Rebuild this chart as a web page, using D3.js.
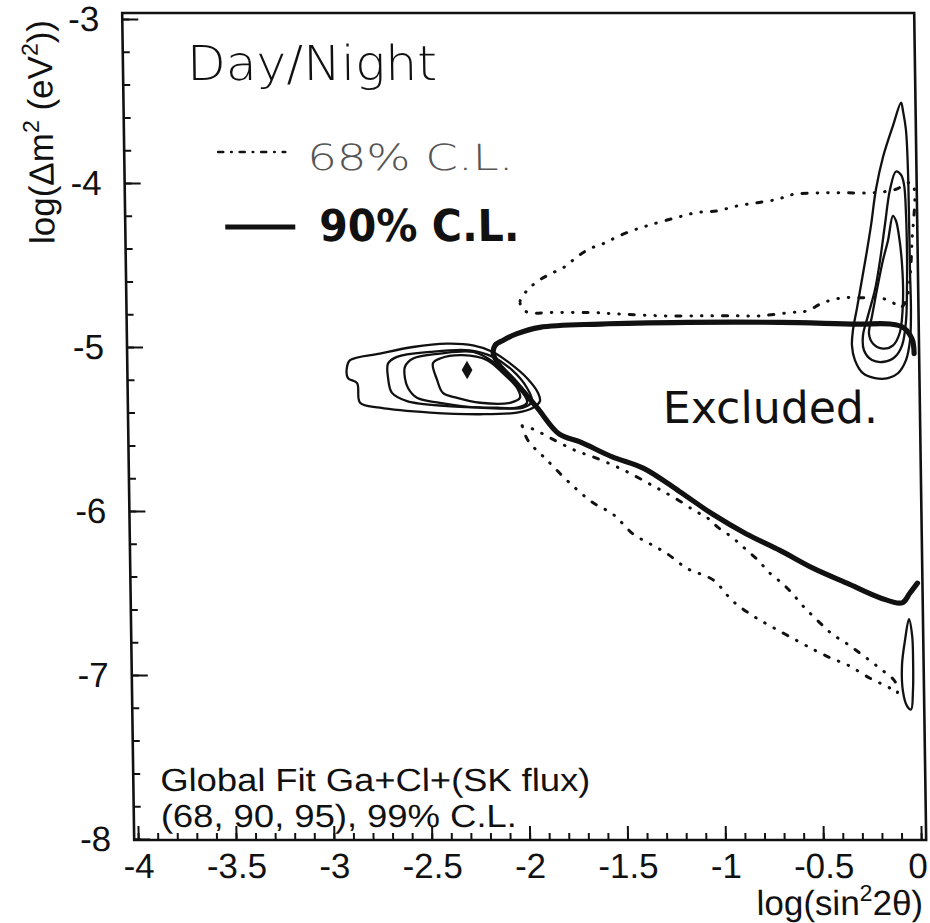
<!DOCTYPE html>
<html>
<head>
<meta charset="utf-8">
<script src="https://cdn.jsdelivr.net/npm/d3@7"></script>
<style>
  html, body { margin: 0; padding: 0; background: #fff; }
  svg { display: block; }
</style>
</head>
<body>
<svg id="chart" width="930" height="923"></svg>
<script>
// ---- axis ticks ---------------------------------------------------------
const xMajorTicks = [-4, -3.5, -3, -2.5, -2, -1.5, -1, -0.5, 0];
const yMajorTicks = [-3, -4, -5, -6, -7, -8];

// ---- global fit Ga+Cl+(SK flux): points are [log sin^2 2θ, log Δm^2] ----
const lmaBestFit = [-2.285, -5.14];
const lma68 = [[-2.459,-5.10],[-2.422,-5.07],[-2.305,-5.05],[-2.182,-5.08],[-2.102,-5.16],[-2.031,-5.25],[-2.017,-5.31],[-2.068,-5.34],[-2.221,-5.34],[-2.338,-5.31],[-2.410,-5.28],[-2.439,-5.20]];
const lma90 = [[-2.602,-5.12],[-2.560,-5.07],[-2.422,-5.04],[-2.253,-5.03],[-2.152,-5.09],[-2.066,-5.19],[-2.001,-5.28],[-1.981,-5.34],[-2.033,-5.37],[-2.222,-5.37],[-2.426,-5.34],[-2.543,-5.31],[-2.588,-5.25],[-2.603,-5.19]];
const lma95 = [[-2.688,-5.10],[-2.642,-5.06],[-2.473,-5.03],[-2.269,-5.02],[-2.152,-5.06],[-2.056,-5.14],[-1.980,-5.25],[-1.956,-5.33],[-2.002,-5.37],[-2.135,-5.37],[-2.390,-5.36],[-2.594,-5.33],[-2.670,-5.28],[-2.689,-5.19]];
const lma99 = [[-2.898,-5.12],[-2.882,-5.08],[-2.729,-5.04],[-2.560,-5.00],[-2.386,-4.98],[-2.253,-4.99],[-2.151,-5.03],[-2.065,-5.10],[-1.979,-5.19],[-1.924,-5.28],[-1.915,-5.33],[-1.951,-5.37],[-2.033,-5.40],[-2.222,-5.41],[-2.477,-5.40],[-2.733,-5.37],[-2.834,-5.34],[-2.848,-5.22],[-2.894,-5.19]];

const sma90 = [[-0.098,-4.20],[-0.125,-4.35],[-0.152,-4.47],[-0.185,-4.65],[-0.212,-4.81],[-0.229,-4.92],[-0.209,-4.98],[-0.159,-5.01],[-0.107,-4.99],[-0.071,-4.91],[-0.053,-4.72],[-0.055,-4.50],[-0.069,-4.32],[-0.083,-4.23]];
const sma95 = [[-0.079,-3.93],[-0.111,-4.04],[-0.139,-4.25],[-0.167,-4.47],[-0.195,-4.65],[-0.233,-4.81],[-0.260,-4.93],[-0.256,-5.02],[-0.216,-5.08],[-0.154,-5.09],[-0.098,-5.06],[-0.061,-4.99],[-0.039,-4.84],[-0.032,-4.65],[-0.029,-4.41],[-0.031,-4.20],[-0.039,-4.01],[-0.054,-3.95]];
const sma99 = [[-0.048,-3.51],[-0.091,-3.65],[-0.144,-3.84],[-0.183,-4.04],[-0.211,-4.26],[-0.239,-4.45],[-0.266,-4.62],[-0.288,-4.76],[-0.311,-4.90],[-0.317,-4.99],[-0.303,-5.08],[-0.263,-5.16],[-0.202,-5.19],[-0.135,-5.19],[-0.084,-5.16],[-0.042,-5.08],[-0.020,-4.96],[-0.013,-4.78],[-0.015,-4.53],[-0.016,-4.23],[-0.018,-3.92],[-0.025,-3.68],[-0.039,-3.56]];
const low99 = [[-0.046,-6.66],[-0.068,-6.79],[-0.085,-6.94],[-0.082,-7.10],[-0.062,-7.19],[-0.042,-7.21],[-0.031,-7.10],[-0.028,-6.91],[-0.031,-6.76]];

// ---- day/night exclusion -------------------------------------------------
const dayNight90 = [[0.0,-6.44],[-0.039,-6.50],[-0.08,-6.56],[-0.19,-6.53],[-0.36,-6.44],[-0.53,-6.35],[-0.70,-6.24],[-0.87,-6.14],[-1.04,-6.02],[-1.21,-5.88],[-1.39,-5.74],[-1.55,-5.67],[-1.71,-5.58],[-1.82,-5.53],[-1.93,-5.37],[-2.05,-5.20],[-2.12,-5.11],[-2.15,-5.04],[-2.14,-4.99],[-2.10,-4.96],[-2.03,-4.92],[-1.91,-4.88],[-1.60,-4.86],[-1.16,-4.85],[-0.68,-4.85],[-0.29,-4.86],[-0.12,-4.86],[-0.055,-4.88],[-0.01,-4.95],[0.0,-5.04]];
const dayNight68Upper = [[-2.000,-4.76],[-2.009,-4.72],[-1.968,-4.65],[-1.906,-4.59],[-1.844,-4.55],[-1.777,-4.51],[-1.715,-4.45],[-1.648,-4.40],[-1.581,-4.37],[-1.494,-4.32],[-1.406,-4.28],[-1.324,-4.25],[-1.201,-4.21],[-1.099,-4.18],[-0.996,-4.17],[-0.894,-4.14],[-0.791,-4.12],[-0.689,-4.10],[-0.607,-4.07],[-0.469,-4.06],[-0.331,-4.06],[-0.198,-4.06],[-0.085,-4.04],[0.0,-4.00],[-0.002,-4.35],[-0.038,-4.72],[-0.069,-4.76],[-0.104,-4.73],[-0.170,-4.70],[-0.257,-4.70],[-0.359,-4.70],[-0.462,-4.73],[-0.544,-4.78],[-0.631,-4.79],[-0.785,-4.81],[-0.902,-4.81],[-1.076,-4.81],[-1.280,-4.81],[-1.484,-4.80],[-1.653,-4.79],[-1.857,-4.79],[-1.969,-4.79]];
const dayNight68LowerTop = [[-2.008,-5.48],[-1.953,-5.50],[-1.856,-5.56],[-1.740,-5.63],[-1.648,-5.67],[-1.547,-5.72],[-1.460,-5.77],[-1.369,-5.83],[-1.293,-5.88],[-1.207,-5.94],[-1.131,-6.00],[-1.070,-6.04],[-1.015,-6.10],[-0.944,-6.16],[-0.878,-6.23],[-0.813,-6.30],[-0.752,-6.38],[-0.692,-6.44],[-0.642,-6.50],[-0.586,-6.58],[-0.511,-6.67],[-0.440,-6.75],[-0.364,-6.81],[-0.284,-6.88],[-0.198,-6.96],[-0.122,-7.04],[-0.112,-7.11]];
const dayNight68LowerBottom = [[-2.008,-5.48],[-1.979,-5.57],[-1.883,-5.69],[-1.768,-5.83],[-1.651,-5.95],[-1.550,-6.02],[-1.449,-6.14],[-1.363,-6.20],[-1.277,-6.26],[-1.176,-6.35],[-1.044,-6.42],[-0.944,-6.55],[-0.842,-6.64],[-0.741,-6.71],[-0.620,-6.79],[-0.528,-6.85],[-0.442,-6.90],[-0.361,-6.94],[-0.249,-7.02],[-0.148,-7.08],[-0.112,-7.11]];

// ---- layout ---------------------------------------------------------------
const frame = { left: 122, right: 914, top: 13, bottom: 840 };
const x = d3.scaleLinear().domain([-4, 0]).range([126, 909]);
const y = d3.scaleLinear().domain([-8, -3]).range([839, 19]);

const ink = "#111";
const sans = "'Liberation Sans', Arial, Helvetica, sans-serif";
const hand = "'DejaVu Sans', 'Noto Sans', sans-serif";

const svg = d3.select("#chart");
svg.append("rect").attr("width", 930).attr("height", 923).attr("fill", "#fff");

// the whole figure leans slightly, like the printed page it came from
const g = svg.append("g").attr("transform", "skewX(0.83)");

// frame
g.append("rect")
  .attr("x", frame.left).attr("y", frame.top)
  .attr("width", frame.right - frame.left).attr("height", frame.bottom - frame.top)
  .attr("fill", "none").attr("stroke", ink).attr("stroke-width", 2.6);

const fmt = d => String(d);
function styleAxis(sel) {
  sel.select(".domain").remove();
  sel.attr("font-family", sans).attr("font-size", 35);
  sel.selectAll(".tick line").attr("stroke", ink).attr("stroke-width", 2);
  sel.selectAll(".tick text").attr("fill", ink);
}

// y axis: major ticks at integers, minor every 0.2, all pointing inward
g.append("g").attr("transform", `translate(${frame.left},0)`)
  .call(d3.axisLeft(y).tickValues(d3.range(-8, -2.99, 0.2)).tickSize(-7).tickFormat(""))
  .call(styleAxis);
g.append("g").attr("transform", `translate(${frame.left},0)`)
  .call(d3.axisLeft(y).tickValues(yMajorTicks).tickSize(-16).tickPadding(23).tickFormat(fmt))
  .call(styleAxis);

// x axis: major ticks every 0.5, minor every 0.1
g.append("g").attr("transform", `translate(0,${frame.bottom})`)
  .call(d3.axisBottom(x).tickValues(d3.range(-4, 0.001, 0.1)).tickSize(-7).tickFormat(""))
  .call(styleAxis);
g.append("g").attr("transform", `translate(0,${frame.bottom})`)
  .call(d3.axisBottom(x).tickValues(xMajorTicks).tickSize(-14).tickPadding(13).tickFormat(fmt))
  .call(styleAxis)
  // keep the "0" label inside the page edge
  .call(s => s.selectAll(".tick text").filter(d => d === 0).attr("dx", -4));

// axis titles
const xt = g.append("text")
  .attr("x", 910).attr("y", 915)
  .attr("text-anchor", "end").attr("font-family", sans).attr("font-size", 35).attr("fill", ink);
xt.append("tspan").text("log(sin");
xt.append("tspan").attr("dy", -14).attr("font-size", 23).text("2");
xt.append("tspan").attr("dy", 14).text("2θ)");

const yt = g.append("text")
  .attr("transform", "translate(51,132) rotate(-90)")
  .attr("text-anchor", "middle").attr("font-family", sans).attr("font-size", 35).attr("fill", ink);
yt.append("tspan").text("log(Δm");
yt.append("tspan").attr("dy", -14).attr("font-size", 23).text("2");
yt.append("tspan").attr("dy", 14).text(" (eV");
yt.append("tspan").attr("dy", -14).attr("font-size", 23).text("2");
yt.append("tspan").attr("dy", 14).text("))");

// ---- contours ---------------------------------------------------------------
const closed = d3.line().x(d => x(d[0])).y(d => y(d[1])).curve(d3.curveCatmullRomClosed.alpha(0.5));
const open = d3.line().x(d => x(d[0])).y(d => y(d[1])).curve(d3.curveCatmullRom.alpha(0.5));

const plot = g.append("g");

// global fit allowed regions (68, 90, 95, 99 % C.L.)
[lma99, lma95, lma90, lma68, sma99, sma95, sma90, low99].forEach(c => {
  plot.append("path").attr("d", closed(c))
    .attr("fill", "none").attr("stroke", ink).attr("stroke-width", 2.3)
    .attr("stroke-linejoin", "round");
});

// best-fit point
plot.append("path")
  .attr("d", d3.symbol(d3.symbolDiamond, 100)())
  .attr("transform", `translate(${x(lmaBestFit[0])},${y(lmaBestFit[1])})`)
  .attr("fill", ink);

// day/night 68 % C.L. (dotted)
const dotted = "0.5,10,0.5,10,0.5,10,5,10";
plot.append("path").attr("d", closed(dayNight68Upper))
  .attr("fill", "none").attr("stroke", ink).attr("stroke-width", 3)
  .attr("stroke-dasharray", dotted).attr("stroke-linecap", "round");
plot.append("path")
  .attr("d", open(dayNight68LowerTop.concat(dayNight68LowerBottom.slice().reverse().slice(1))))
  .attr("fill", "none").attr("stroke", ink).attr("stroke-width", 3)
  .attr("stroke-dasharray", dotted).attr("stroke-linecap", "round");

// day/night 90 % C.L. (thick)
plot.append("path").attr("d", open(dayNight90))
  .attr("fill", "none").attr("stroke", ink).attr("stroke-width", 5.2)
  .attr("stroke-linejoin", "round").attr("stroke-linecap", "round");

// ---- annotations ------------------------------------------------------------
g.append("text").attr("x", 186).attr("y", 80)
  .attr("font-family", hand).attr("font-size", 48).attr("font-weight", 300).attr("fill", ink)
  .attr("textLength", 250).attr("lengthAdjust", "spacingAndGlyphs")
  .text("Day/Night");

// legend: 68 % dotted sample
g.append("line").attr("x1", 216).attr("x2", 283).attr("y1", 152).attr("y2", 152)
  .attr("stroke", ink).attr("stroke-width", 2.6).attr("stroke-linecap", "round")
  .attr("stroke-dasharray", "5,8,0.5,8");
g.append("text").attr("x", 305).attr("y", 170)
  .attr("font-family", hand).attr("font-size", 36).attr("font-weight", 300).attr("fill", "#555")
  .attr("textLength", 206).attr("lengthAdjust", "spacingAndGlyphs")
  .text("68% C.L.");

// legend: 90 % solid sample
g.append("line").attr("x1", 222).attr("x2", 292).attr("y1", 227).attr("y2", 227)
  .attr("stroke", ink).attr("stroke-width", 5);
g.append("text").attr("x", 316).attr("y", 241)
  .attr("font-family", hand).attr("font-size", 44).attr("font-weight", "bold").attr("fill", ink)
  .attr("textLength", 200).attr("lengthAdjust", "spacingAndGlyphs")
  .text("90% C.L.");

g.append("text").attr("x", 657).attr("y", 423)
  .attr("font-family", hand).attr("font-size", 44).attr("fill", ink)
  .attr("textLength", 215).attr("lengthAdjust", "spacingAndGlyphs")
  .text("Excluded.");

// fit description, two lines
g.append("text").attr("x", 149).attr("y", 791)
  .attr("font-family", sans).attr("font-size", 32).attr("fill", ink)
  .attr("textLength", 430).attr("lengthAdjust", "spacingAndGlyphs")
  .text("Global Fit Ga+Cl+(SK flux)");
g.append("text").attr("x", 149).attr("y", 827)
  .attr("font-family", sans).attr("font-size", 32).attr("fill", ink)
  .attr("textLength", 356).attr("lengthAdjust", "spacingAndGlyphs")
  .text("(68, 90, 95), 99% C.L.");
</script>
</body>
</html>
